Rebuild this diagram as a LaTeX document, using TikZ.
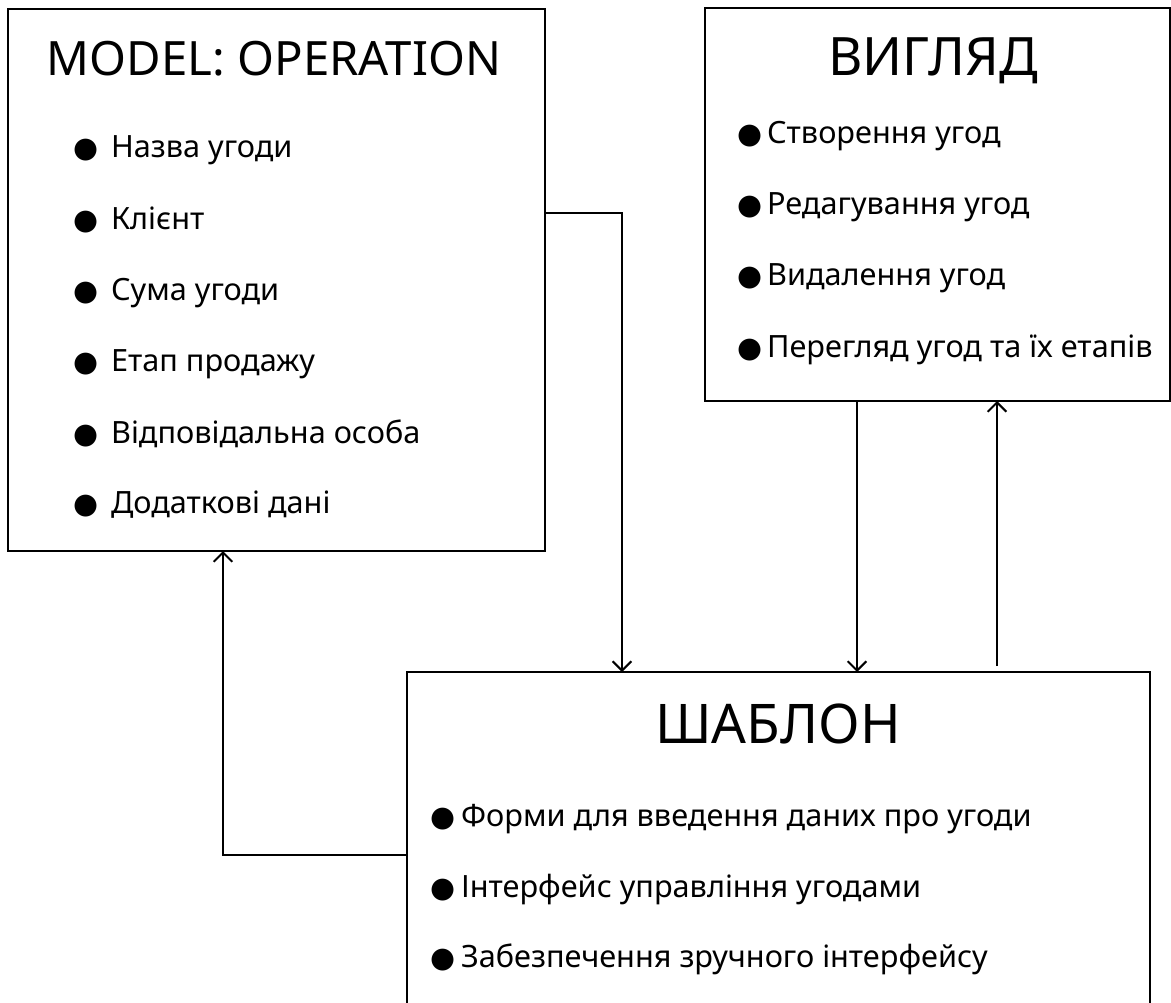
\documentclass[tikz,border=0pt]{standalone}
\usepackage{fontspec}
\setmainfont{Noto Sans}
\newfontfamily\dejavu{DejaVu Sans}
\usetikzlibrary{calc, arrows.meta, positioning}
\newcommand{\bul}{{\dejavu\fontsize{21.5}{24}\selectfont ●}}

\begin{document}
\begin{tikzpicture}[
			x=0.75pt, y=-0.75pt,
			box/.style={
				rectangle,
				draw=black,
				line width=2pt,
				fill=white,
				inner sep=0pt,
				outer sep=0pt,
				anchor=north west,
			},
			title/.style={
				anchor=base,
				inner sep=0pt,
				font=\fontsize{40}{48}\selectfont,
			},
			item/.style={
				anchor=base west,
				inner sep=0pt,
				font=\fontsize{23}{28}\selectfont,
			},
			arrow/.style={-{Straight Barb[length=7pt, width=14pt]}, line width=1.5pt},
			]
			\useasboundingbox (0,0) rectangle (1171,1003);
			\node[box, minimum width=402.75pt, minimum height=406.5pt] (model) at (8,9) {};
			\node[box, minimum width=348.75pt, minimum height=294.75pt] (view) at (705,8) {};
			\node[box, minimum width=557.25pt, minimum height=261pt] (tmpl) at (407,672) {};
			
			\node[title, font=\fontsize{35.5}{42}\selectfont] (modeltitle) at (274,75) {MODEL: OPERATION};
			\node[item] (m1) at (73,157) {\bul\hspace{9.6pt}Назва угоди};
			\node[item] (m2) at (73,229) {\bul\hspace{9.6pt}Клієнт};
			\node[item] (m3) at (73,300) {\bul\hspace{9.6pt}Сума угоди};
			\node[item] (m4) at (73,371) {\bul\hspace{9.6pt}Етап продажу};
			\node[item] (m5) at (73,443) {\bul\hspace{9.6pt}Відповідальна особа};
			\node[item] (m6) at (73,513) {\bul\hspace{9.6pt}Додаткові дані};
			
			\node[title, font=\fontsize{39.7}{48}\selectfont] (viewtitle) at (933,75) {ВИГЛЯД};
			\node[item] (v1) at (737,143) {\bul\hspace{3.6pt}Створення угод};
			\node[item] (v2) at (737,214) {\bul\hspace{3.6pt}Редагування угод};
			\node[item] (v3) at (737,285) {\bul\hspace{3.6pt}Видалення угод};
			\node[item] (v4) at (737,357) {\bul\hspace{3.6pt}Перегляд угод та їх етапів};
			
			\node[title, font=\fontsize{41}{49}\selectfont] (tmpltitle) at (778,743) {ШАБЛОН};
			\node[item] (t1) at (430,826) {\bul\hspace{4.4pt}Форми для введення даних про угоди};
			\node[item] (t2) at (430,897) {\bul\hspace{4.4pt}Інтерфейс управління угодами};
			\node[item] (t3) at (430,967) {\bul\hspace{4.4pt}Забезпечення зручного інтерфейсу};
			
			\draw[arrow] ($(model.north east)+(0,204)$) -| ($(tmpl.north west)+(215,0)$);
			\draw[arrow] ($(view.south west)+(152,0)$) coordinate (vdown) -- (vdown |- tmpl.north);
			\draw[arrow] ($(tmpl.north west)+(590,-6)$) coordinate (tup) -- (tup |- view.south);
			\draw[arrow] ($(tmpl.north west)+(0,183)$) -| ($(model.south west)+(215,0)$);
		\end{tikzpicture}
\end{document}
